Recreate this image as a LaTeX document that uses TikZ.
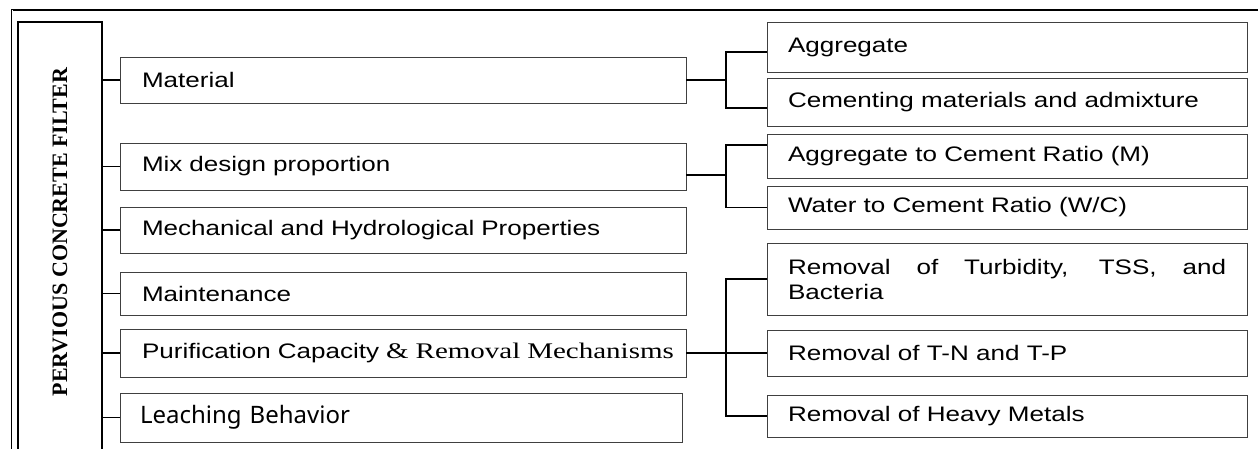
\documentclass[tikz,border=0pt]{standalone}
\usepackage{fontspec}
\setmainfont[FakeStretch=1.24]{Liberation Sans}
\newfontfamily\wideserif[FakeStretch=1.3]{Liberation Serif}
\newfontfamily\titleserif{Liberation Serif}
\newfontfamily\leachsans{Noto Sans}
\usetikzlibrary{positioning}
\tikzset{
	titlebox/.style={draw=black, line width=1.3pt, outer sep=0pt, inner sep=0pt, minimum width=440pt, minimum height=84pt, font=\titleserif\bfseries\fontsize{22}{26}\selectfont},
	aspect/.style={draw=black!75, line width=1pt, outer sep=0pt, inner xsep=22pt, inner ysep=0pt, text width=522pt, align=left, anchor=west, font=\fontsize{21}{25}\selectfont},
	subaspect/.style={aspect, inner xsep=21pt, text width=438pt, align=justify},
	link/.style={draw=black, line width=1.4pt},
	frame/.style={draw=black, line width=2pt}
}
\newcommand{\connectaspect}[1]{
	\draw[link] (title.south |- #1.west) -- (#1.west);
}
\newcommand{\connectsub}[2]{
	\draw[link] (#1) |- (#2);
}

\begin{document}
\begin{tikzpicture}[x=1pt, y=-1pt]
	\useasboundingbox (0,0) rectangle (1258,448);
	\clip (0,0) rectangle (1258,448);

	% outer frame
	\draw[frame] (1262,10) -- (12,10) -- (12,452);
	\draw[line width=.7pt, double, double distance=1pt] (12,10) -- (12,452);

	\node[titlebox, rotate=90, anchor=north east] (title) at (18,22) {\hspace*{20pt}PERVIOUS CONCRETE FILTER};

	% aspects of the filter
	\node[aspect, minimum height=46pt] (material) at (120,80) {Material};
	\node[aspect, minimum height=47pt] (mix-design) at (120,166.5) {Mix design proportion};
	\node[aspect, minimum height=46pt] (mech-hydro) at (120,230) {Mechanical and Hydrological Properties};
	\node[aspect, minimum height=43pt] (maintenance) at (120,293.5) {Maintenance};
	\node[aspect, minimum height=48pt] (purification) at (120,353) {\mbox{Purification Capacity {\wideserif\fontsize{22.3}{25}\selectfont\& Removal Mechanisms}}};
	\node[aspect, minimum height=49pt, inner xsep=20pt, font=\leachsans\fontsize{24}{28}\selectfont] (leaching) at (120,417.5) {Leaching Behavior};

	\connectaspect{material};
	\connectaspect{mix-design};
	\connectaspect{mech-hydro};
	\connectaspect{maintenance};
	\connectaspect{purification};
	\connectaspect{leaching};

	% Material sub-aspects are drawn
	\node[subaspect, minimum height=50pt] (aggregate) at (767,47) {Aggregate};
	\node[subaspect, minimum height=48pt, below=6pt of aggregate] (cementing) {Cementing materials and admixture};

	\coordinate (material-j) at ([xshift=40pt]material.east);
	\draw[link] (material.east) -- (material-j);
	\connectsub{material-j}{[yshift=-5pt]aggregate.west};
	\connectsub{material-j}{[yshift=-6pt]cementing.west};

	% Mix design sub-aspects are drawn
	\node[subaspect, minimum height=44pt, below=8pt of cementing] (agg-cement) {Aggregate to Cement Ratio (M)};
	\node[subaspect, minimum height=43pt, below=8pt of agg-cement] (water-cement) {Water to Cement Ratio (W/C)};

	\coordinate (mix-j) at ([xshift=40pt, yshift=-8.5pt]mix-design.east);
	\draw[link] (mix-j -| mix-design.east) -- (mix-j);
	\connectsub{mix-j}{[yshift=11pt]agg-cement.west};
	\connectsub{mix-j}{water-cement.west};

	% Removal sub-aspects are drawn
	\node[subaspect, minimum height=72pt, below=14pt of water-cement] (turbidity) {Removal of Turbidity, TSS, and \mbox{Bacteria}};
	\node[subaspect, minimum height=46pt, below=15pt of turbidity] (nitro-phos) {Removal of T-N and T-P};
	\node[subaspect, minimum height=42pt, below=19pt of nitro-phos] (heavy-metals) {Removal of Heavy Metals};

	\coordinate (purification-j) at ([xshift=40pt]purification.east);
	\draw[link] (purification.east) -- (purification-j);
	\connectsub{purification-j}{turbidity.west};
	\connectsub{purification-j}{nitro-phos.west};
	\connectsub{purification-j}{heavy-metals.west};

\end{tikzpicture}
\end{document}
